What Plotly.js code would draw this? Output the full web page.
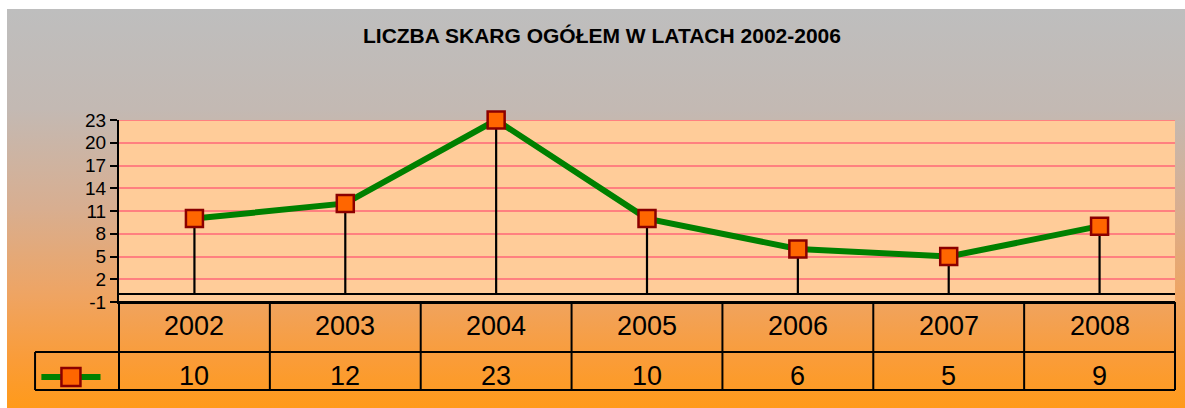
<!DOCTYPE html>
<html>
<head>
<meta charset="utf-8">
<script src="https://cdn.plot.ly/plotly-3.0.1.min.js"></script>
<style>
  html, body { margin: 0; padding: 0; background: #ffffff; width: 1185px; height: 408px; overflow: hidden; }
  #bg { position: absolute; left: 7px; top: 9px; width: 1178px; height: 399px;
        background: linear-gradient(to bottom, #BEBEBE 0%, #C3B9B3 25%, #D8AE90 50%, #EFA462 72%, #FA9C38 88%, #FF9A1A 100%); }
  #chart { position: absolute; left: 0; top: 0; width: 1185px; height: 408px; }
</style>
</head>
<body>
<div id="bg"></div>
<div id="chart"></div>
<script>
// ---- data ----
var years = ['2002', '2003', '2004', '2005', '2006', '2007', '2008'];
var values = [10, 12, 23, 10, 6, 5, 9];
var yTicks = [-1, 2, 5, 8, 11, 14, 17, 20, 23];
var chartTitle = 'LICZBA SKARG OGÓŁEM W LATACH 2002-2006';

// ---- layout helpers ----
var n = years.length;
var xIdx = years.map(function (_, i) { return i; });
var rowTop = 0, rowMid = -0.2747, rowBot = -0.4835, legLeft = -0.0795;
var font = 'Liberation Sans, Arial, sans-serif';
var yMax = yTicks[yTicks.length - 1];

var stems = {
  x: xIdx, y: values, type: 'scatter', mode: 'markers',
  marker: { size: 1, color: 'rgba(0,0,0,0)' },
  error_y: { type: 'data', symmetric: false,
             array: values.map(function () { return 0; }),
             arrayminus: values, color: '#000000', thickness: 2.2, width: 0 },
  hoverinfo: 'skip', showlegend: false
};
var line = {
  x: xIdx, y: values, type: 'scatter', mode: 'lines+markers',
  line: { color: '#008000', width: 6 },
  marker: { symbol: 'square', size: 17, color: '#FF6600', line: { color: '#8B0000', width: 2.5 } },
  cliponaxis: false,
  showlegend: false
};

var shapes = [];
// top gridline at the range maximum
shapes.push({ type: 'line', xref: 'paper', yref: 'y', x0: 0, x1: 1, y0: yMax, y1: yMax,
              line: { color: '#FF8080', width: 2 }, layer: 'below' });
function seg(x0, y0, x1, y1) {
  shapes.push({ type: 'line', xref: 'paper', yref: 'paper', x0: x0, y0: y0, x1: x1, y1: y1,
                line: { color: '#000000', width: 2 } });
}
for (var k = 0; k <= n; k++) seg(k / n, rowTop, k / n, rowBot);
seg(0, rowTop, 1, rowTop);
seg(legLeft, rowMid, 1, rowMid);
seg(legLeft, rowBot, 1, rowBot);
seg(legLeft, rowMid, legLeft, rowBot);
// legend key
shapes.push({ type: 'line', xref: 'paper', yref: 'paper', x0: -0.0735, x1: -0.0175, y0: -0.412, y1: -0.412,
              line: { color: '#008000', width: 6 } });
shapes.push({ type: 'rect', xref: 'paper', yref: 'paper', x0: -0.0545, x1: -0.0365, y0: -0.362, y1: -0.462,
              fillcolor: '#FF6600', line: { color: '#8B0000', width: 2.5 } });

var annotations = [];
years.forEach(function (yr, i) {
  annotations.push({ x: i, xref: 'x', y: -0.132, yref: 'paper', text: yr, showarrow: false,
                     xanchor: 'center', yanchor: 'middle', font: { family: font, size: 27, color: '#000' } });
  annotations.push({ x: i, xref: 'x', y: -0.405, yref: 'paper', text: String(values[i]), showarrow: false,
                     xanchor: 'center', yanchor: 'middle', font: { family: font, size: 27, color: '#000' } });
});

var layout = {
  width: 1185, height: 408,
  margin: { l: 119, r: 10, t: 120, b: 106 },
  paper_bgcolor: 'rgba(0,0,0,0)',
  plot_bgcolor: '#FFCC99',
  title: { text: chartTitle, x: 0.508, xref: 'container', y: 0.912, yref: 'container',
           xanchor: 'center', yanchor: 'middle',
           font: { family: font, size: 21, weight: 'bold', color: '#000000' } },
  xaxis: { range: [-0.5, n - 0.5], showticklabels: false, ticks: '', showgrid: false, zeroline: false,
           showline: true, linecolor: '#000000', linewidth: 2, fixedrange: true },
  yaxis: { range: [yTicks[0], yMax], tickmode: 'array', tickvals: yTicks,
           ticktext: yTicks.map(String), ticks: 'outside', ticklen: 7, tickwidth: 2, tickcolor: '#000000',
           showline: true, linecolor: '#000000', linewidth: 2,
           showgrid: true, gridcolor: '#FF8080', gridwidth: 2,
           zeroline: true, zerolinecolor: '#000000', zerolinewidth: 2,
           tickfont: { family: font, size: 19, color: '#000000' }, fixedrange: true },
  shapes: shapes,
  annotations: annotations,
  showlegend: false
};

Plotly.newPlot('chart', [stems, line], layout, { displayModeBar: false, staticPlot: true });
</script>
</body>
</html>
